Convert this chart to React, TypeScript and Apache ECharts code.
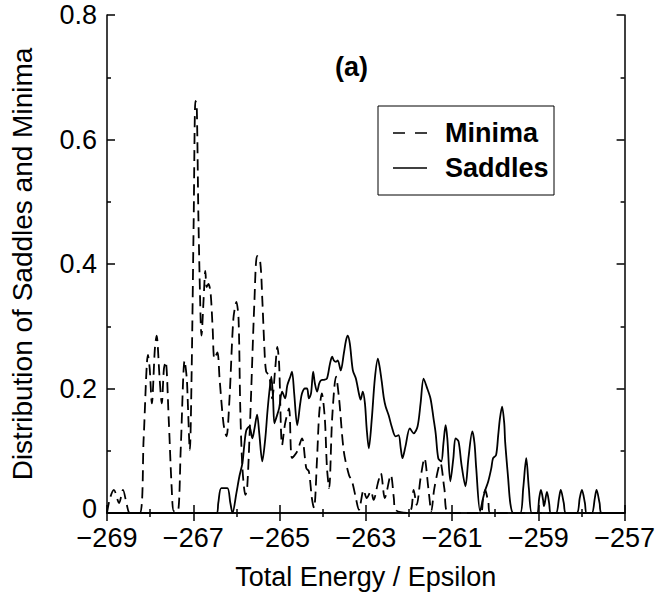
import React, { useEffect, useRef } from "react";
import * as echarts from "echarts";

// Energies (Total Energy / Epsilon) and densities for the dashed "Minima" curve
const minimaEnergy = [
  -269.0, -268.93, -268.84, -268.72, -268.63, -268.54, -268.47, -268.24, -268.15, -268.05,
  -268.01, -267.96, -267.89, -267.85, -267.78, -267.73, -267.68, -267.64, -267.57, -267.5,
  -267.45, -267.36, -267.29, -267.2, -267.15, -267.13, -267.08, -267.04, -266.99, -266.95,
  -266.92, -266.88, -266.83, -266.81, -266.76, -266.72, -266.69, -266.65, -266.6, -266.55,
  -266.51, -266.44, -266.39, -266.3, -266.23, -266.16, -266.07, -266.0, -265.95, -265.91,
  -265.86, -265.79, -265.75, -265.68, -265.58, -265.52, -265.45, -265.4, -265.35, -265.31,
  -265.24, -265.17, -265.1, -265.05, -265.01, -264.94, -264.87, -264.78, -264.71, -264.59,
  -264.48, -264.38, -264.32, -264.25, -264.2, -264.13, -264.08, -264.02, -263.95, -263.9,
  -263.85, -263.78, -263.69, -263.62, -263.51, -263.39, -263.32, -263.23, -263.16, -263.05,
  -262.98, -262.88, -262.82, -262.72, -262.65, -262.56, -262.42, -262.35, -262.31, -262.01,
  -261.94, -261.89, -261.82, -261.73, -261.64, -261.55, -261.48, -261.41, -261.27, -261.18,
  -261.08, -260.35, -260.28, -260.23, -260.18, -260.16, -260.12, -257.0,
];
const minimaDensity = [
  0, 0.024, 0.037, 0.016, 0.037, 0.013, 0, 0, 0.12, 0.254,
  0.232, 0.176, 0.264, 0.285, 0.216, 0.176, 0.232, 0.243, 0.152, 0.04,
  0.003, 0.003, 0.104, 0.245, 0.216, 0.184, 0.101, 0.216, 0.472, 0.662,
  0.656, 0.472, 0.312, 0.285, 0.344, 0.389, 0.363, 0.368, 0.355, 0.296,
  0.248, 0.258, 0.216, 0.144, 0.123, 0.184, 0.312, 0.339, 0.312, 0.168,
  0.072, 0.029, 0.04, 0.152, 0.344, 0.413, 0.405, 0.344, 0.264, 0.227,
  0.221, 0.184, 0.232, 0.267, 0.24, 0.109, 0.144, 0.168, 0.088, 0.099,
  0.12, 0.072, 0.067, 0.024, 0.008, 0.088, 0.16, 0.192, 0.152, 0.072,
  0.04, 0.152, 0.219, 0.184, 0.099, 0.061, 0.051, 0.024, 0.005, 0.037,
  0.024, 0.035, 0.021, 0.048, 0.064, 0.024, 0.061, 0.024, 0.005, 0,
  0.008, 0.037, 0.013, 0.056, 0.088, 0.04, 0.003, 0.04, 0.08, 0.04,
  0, 0, 0.024, 0.037, 0.024, 0.019, 0, 0,
];

// Energies and densities for the solid "Saddles" curve
const saddlesEnergy = [
  -269.0, -266.46, -266.42, -266.35, -266.21, -266.14, -266.09, -266.0, -265.93, -265.86,
  -265.82, -265.77, -265.7, -265.63, -265.58, -265.52, -265.47, -265.4, -265.33, -265.28,
  -265.24, -265.19, -265.15, -265.12, -265.08, -265.01, -264.94, -264.87, -264.82, -264.75,
  -264.71, -264.66, -264.59, -264.52, -264.48, -264.41, -264.36, -264.32, -264.27, -264.22,
  -264.18, -264.13, -264.08, -264.04, -263.97, -263.9, -263.83, -263.78, -263.74, -263.69,
  -263.65, -263.58, -263.51, -263.46, -263.42, -263.37, -263.3, -263.23, -263.16, -263.12,
  -263.07, -263.02, -262.98, -262.93, -262.86, -262.79, -262.72, -262.68, -262.63, -262.58,
  -262.54, -262.47, -262.4, -262.31, -262.24, -262.19, -262.15, -262.08, -261.98, -261.89,
  -261.8, -261.73, -261.66, -261.59, -261.5, -261.43, -261.38, -261.32, -261.25, -261.2,
  -261.15, -261.11, -261.04, -260.97, -260.92, -260.85, -260.78, -260.69, -260.62, -260.53,
  -260.48, -260.44, -260.35, -260.28, -260.23, -260.16, -260.09, -260.05, -259.98, -259.93,
  -259.89, -259.84, -259.79, -259.77, -259.7, -259.65, -259.58, -259.42, -259.35, -259.28,
  -259.22, -259.15, -259.03, -258.98, -258.94, -258.89, -258.87, -258.85, -258.8, -258.75,
  -258.71, -258.59, -258.52, -258.48, -258.41, -258.36, -258.11, -258.04, -257.99, -257.92,
  -257.88, -257.76, -257.69, -257.65, -257.58, -257.53, -257.0,
];
const saddlesDensity = [
  0, 0, 0.016, 0.04, 0.04, 0.016, 0, 0.032, 0.059, 0.08,
  0.107, 0.133, 0.139, 0.12, 0.136, 0.158, 0.128, 0.083, 0.12, 0.163,
  0.192, 0.219, 0.184, 0.144, 0.152, 0.168, 0.195, 0.184, 0.205, 0.219,
  0.227, 0.192, 0.141, 0.176, 0.192, 0.2, 0.2, 0.184, 0.192, 0.227,
  0.208, 0.195, 0.208, 0.213, 0.214, 0.216, 0.24, 0.251, 0.245, 0.243,
  0.245, 0.229, 0.256, 0.277, 0.285, 0.272, 0.229, 0.216, 0.192, 0.182,
  0.195, 0.176, 0.136, 0.104, 0.152, 0.216, 0.248, 0.235, 0.211, 0.184,
  0.171, 0.157, 0.139, 0.123, 0.125, 0.104, 0.088, 0.107, 0.136, 0.128,
  0.139, 0.176, 0.216, 0.203, 0.184, 0.152, 0.128, 0.088, 0.083, 0.112,
  0.141, 0.12, 0.051, 0.088, 0.12, 0.115, 0.077, 0.043, 0.088, 0.131,
  0.112, 0.072, 0.003, 0.024, 0.037, 0.051, 0.072, 0.088, 0.093, 0.125,
  0.152, 0.171, 0.144, 0.115, 0.056, 0.016, 0, 0, 0.04, 0.088,
  0.04, 0, 0, 0.024, 0.037, 0.021, 0.011, 0.016, 0.034, 0.016,
  0, 0, 0.024, 0.037, 0.016, 0, 0, 0.024, 0.037, 0.016,
  0, 0, 0.024, 0.037, 0.016, 0, 0,
];

const xMin = -269;
const xMax = -257;
const xStep = 2;
const yMin = 0;
const yMax = 0.8;
const yStep = 0.2;

const seriesNames = ["Minima", "Saddles"];
const xTitle = "Total Energy / Epsilon";
const yTitle = "Distribution of Saddles and Minima";
const panelLabel = "(a)";

const FONT = "'Liberation Sans', Arial, Helvetica, sans-serif";
const FS = 27;

function pairs(xs: number[], ys: number[]) {
  return xs.map((x, i) => [x, ys[i]]);
}

export default function App() {
  const ref = useRef<HTMLDivElement>(null);

  useEffect(() => {
    if (!ref.current) return;
    const chart = echarts.init(ref.current, undefined, { renderer: "svg" });

    const axisLine = { show: true, lineStyle: { color: "#000", width: 1.5 } };
    const axisTick = { show: true, inside: true, length: 8, lineStyle: { color: "#000", width: 1.5 } };
    const minorTick = { show: true, splitNumber: 2, length: 4, lineStyle: { color: "#000", width: 1.5 } };
    const xFmt = (v: number) => String(v).replace("-", "\u2212");
    const yFmt = (v: number) => (v === 0 ? "{zero|0}" : v.toFixed(1));

    const baseX = {
      type: "value" as const,
      min: xMin,
      max: xMax,
      interval: xStep,
      axisLine,
      axisTick,
      minorTick,
      splitLine: { show: false },
    };
    const baseY = {
      type: "value" as const,
      min: yMin,
      max: yMax,
      interval: yStep,
      axisLine,
      axisTick,
      minorTick,
      splitLine: { show: false },
    };

    chart.setOption({
      animation: false,
      backgroundColor: "#fff",
      grid: { left: 107, right: 31, top: 15, bottom: 80, containLabel: false },
      xAxis: [
        {
          ...baseX,
          position: "bottom",
          axisLabel: {
            formatter: xFmt,
            color: "#000",
            fontSize: FS,
            fontFamily: FONT,
            margin: 13,
            lineHeight: 24,
          },
          name: xTitle,
          nameLocation: "middle",
          nameGap: 50,
          nameTextStyle: { color: "#000", fontSize: FS, fontFamily: FONT },
        },
        { ...baseX, position: "top", axisLabel: { show: false } },
      ],
      yAxis: [
        {
          ...baseY,
          position: "left",
          axisLabel: {
            formatter: yFmt,
            color: "#000",
            fontSize: FS,
            fontFamily: FONT,
            margin: 10,
            lineHeight: 24,
            rich: {
              zero: {
                fontSize: FS,
                fontFamily: FONT,
                color: "#000",
                lineHeight: 24,
                padding: [0, 0, 8, 0],
              },
            },
          },
          name: yTitle,
          nameLocation: "middle",
          nameGap: 71,
          nameTextStyle: { color: "#000", fontSize: 28, fontFamily: FONT },
        },
        { ...baseY, position: "right", axisLabel: { show: false } },
      ],
      series: [
        {
          name: seriesNames[0],
          type: "line",
          xAxisIndex: 0,
          yAxisIndex: 0,
          data: pairs(minimaEnergy, minimaDensity),
          showSymbol: false,
          symbol: "none",
          smooth: 0.3,
          lineStyle: { color: "#000", width: 1.8, type: [11, 6] },
          z: 3,
        },
        {
          name: seriesNames[1],
          type: "line",
          xAxisIndex: 0,
          yAxisIndex: 0,
          data: pairs(saddlesEnergy, saddlesDensity),
          showSymbol: false,
          symbol: "none",
          smooth: 0.3,
          lineStyle: { color: "#000", width: 1.8 },
          z: 3,
        },
      ],
      graphic: [
        {
          type: "text",
          left: 335,
          top: 53,
          style: { text: panelLabel, fontSize: FS, fontWeight: "bold", fontFamily: FONT, fill: "#000" },
        },
        {
          type: "rect",
          shape: { x: 378, y: 106, width: 176, height: 89 },
          style: { fill: "#fff", stroke: "#000", lineWidth: 1 },
          z: 10,
        },
        {
          type: "line",
          shape: { x1: 393, y1: 133, x2: 427, y2: 133 },
          style: { stroke: "#000", lineWidth: 1.6, lineDash: [12, 10] },
          z: 11,
        },
        {
          type: "text",
          x: 445,
          y: 133,
          style: {
            text: seriesNames[0],
            fontSize: FS,
            fontWeight: "bold",
            fontFamily: FONT,
            fill: "#000",
            verticalAlign: "middle",
          },
          z: 11,
        },
        {
          type: "line",
          shape: { x1: 393, y1: 168, x2: 427, y2: 168 },
          style: { stroke: "#000", lineWidth: 1.6 },
          z: 11,
        },
        {
          type: "text",
          x: 445,
          y: 168,
          style: {
            text: seriesNames[1],
            fontSize: FS,
            fontWeight: "bold",
            fontFamily: FONT,
            fill: "#000",
            verticalAlign: "middle",
          },
          z: 11,
        },
      ],
    });

    return () => chart.dispose();
  }, []);

  return (
    <div
      ref={ref}
      style={{ position: "fixed", left: 0, top: 0, width: 658, height: 595, background: "#fff" }}
    />
  );
}
